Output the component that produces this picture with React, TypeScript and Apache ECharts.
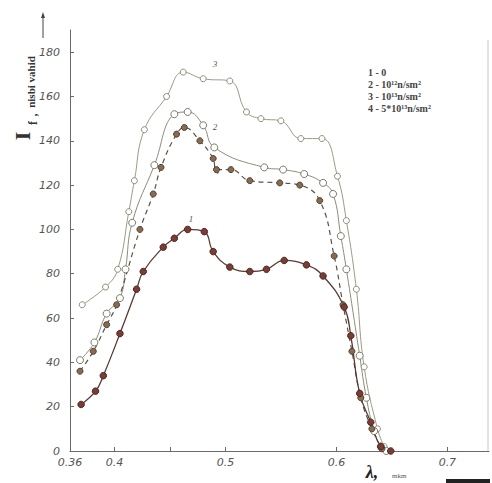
import React, { useEffect, useRef } from "react";
import * as echarts from "echarts";

// λ (mkm), I_f (nisbi vahid)
const curve1: number[][] = [
  [0.370, 21], [0.383, 27], [0.390, 34], [0.405, 53], [0.420, 73], [0.426, 81],
  [0.444, 92], [0.454, 96], [0.466, 100], [0.481, 99], [0.489, 90], [0.504, 83],
  [0.522, 81], [0.537, 82], [0.553, 86], [0.573, 84], [0.588, 79], [0.607, 65],
  [0.613, 52], [0.621, 26], [0.631, 13], [0.640, 2], [0.649, 0],
];
const curve2: number[][] = [
  [0.369, 41], [0.382, 49], [0.393, 62], [0.405, 69], [0.410, 82], [0.416, 103],
  [0.436, 129], [0.454, 152], [0.466, 153], [0.480, 147], [0.490, 137], [0.535, 128],
  [0.552, 127], [0.571, 125], [0.588, 121], [0.597, 116], [0.604, 97], [0.609, 82],
  [0.621, 43], [0.627, 24], [0.634, 9], [0.640, 2], [0.645, 0],
];
const curve3: number[][] = [
  [0.371, 66], [0.392, 74], [0.403, 82], [0.413, 108], [0.418, 122], [0.427, 145],
  [0.447, 160], [0.462, 171], [0.480, 168], [0.504, 167], [0.519, 153], [0.532, 150],
  [0.550, 149], [0.568, 141], [0.587, 141], [0.601, 124], [0.609, 104], [0.618, 73],
  [0.625, 38], [0.637, 10], [0.643, 2],
];
const curve4: number[][] = [
  [0.369, 36], [0.381, 45], [0.393, 57], [0.402, 66], [0.423, 100], [0.435, 116],
  [0.442, 128], [0.456, 143], [0.463, 146], [0.477, 140], [0.489, 132], [0.492, 127],
  [0.505, 127], [0.522, 122], [0.549, 121], [0.567, 120], [0.585, 113], [0.598, 88],
  [0.606, 66], [0.614, 45], [0.622, 24], [0.632, 10], [0.641, 1],
];

const xLabelValues = [0.36, 0.4, 0.5, 0.6, 0.7];
const xTickValues = [0.4, 0.45, 0.5, 0.6, 0.7];
const yTickValues = [0, 20, 40, 60, 80, 100, 120, 140, 160, 180];
const legendLines = ["1 - 0", "2 - 10¹²n/sm²", "3 - 10¹³n/sm²", "4 - 5*10¹³n/sm²"];
const curveNames = ["1", "2", "3", "4"];

export default function App() {
  const ref = useRef<HTMLDivElement>(null);
  useEffect(() => {
    if (!ref.current) return;
    const chart = echarts.init(ref.current, undefined, { renderer: "svg" });
    const serif = "Liberation Serif";
    const labelFont = { fontFamily: "DejaVu Sans", fontStyle: "italic" as const, fontSize: 11, color: "#555" };
    const rot = Math.PI / 2;
    chart.setOption({
      animation: false,
      backgroundColor: "#ffffff",
      grid: { left: 70, right: 3, top: 30, bottom: 32, containLabel: false },
      xAxis: {
        type: "value",
        min: 0.36,
        max: 0.7375,
        axisLine: { lineStyle: { color: "#6a6a6a", width: 1 } },
        axisTick: { inside: true, length: 4, customValues: xTickValues, lineStyle: { color: "#6a6a6a" } },
        axisLabel: {
          ...labelFont,
          margin: 6,
          customValues: xLabelValues,
          formatter: (v: number) => (Math.abs(v - 0.36) < 1e-6 ? "0.36" : v.toFixed(1)),
        },
        splitLine: { show: false },
      },
      yAxis: {
        type: "value",
        min: 0,
        max: 190,
        axisLine: { show: true, lineStyle: { color: "#6a6a6a", width: 1 } },
        axisTick: { show: true, inside: true, length: 4, customValues: yTickValues, lineStyle: { color: "#6a6a6a" } },
        axisLabel: { ...labelFont, margin: 10, customValues: yTickValues },
        splitLine: { show: false },
      },
      series: [
        {
          type: "line", data: curve3, smooth: 0.45,
          lineStyle: { color: "#9b9b86", width: 1 },
          symbol: "circle", symbolSize: 6, showSymbol: true,
          itemStyle: { color: "#ffffff", borderColor: "#8d8d78", borderWidth: 1 },
        },
        {
          type: "scatter", data: curve3, symbol: "circle", symbolSize: 2,
          itemStyle: { color: "#6d6d5c" },
        },
        {
          type: "line", data: curve2, smooth: 0.45,
          lineStyle: { color: "#8c8c7c", width: 1 },
          symbol: "circle", symbolSize: 7, showSymbol: true,
          itemStyle: { color: "#ffffff", borderColor: "#7a7a6c", borderWidth: 1 },
        },
        {
          type: "line", data: curve4, smooth: 0.45,
          lineStyle: { color: "#5a5048", width: 1.2, type: [5, 4] },
          symbol: "circle", symbolSize: 6, showSymbol: true,
          itemStyle: { color: "#8a6b4c", borderColor: "#4d4038", borderWidth: 1 },
        },
        {
          type: "line", data: curve1, smooth: 0.45,
          lineStyle: { color: "#5a3a32", width: 1.3 },
          symbol: "circle", symbolSize: 6.5, showSymbol: true,
          itemStyle: { color: "#7b3c36", borderColor: "#4a2622", borderWidth: 1 },
        },
      ],
      graphic: [
        // y axis name
        { type: "text", x: 22, y: 136, rotation: rot, style: { text: "I", font: `bold 22px ${serif}`, fill: "#333", align: "center", verticalAlign: "middle" } },
        { type: "text", x: 33, y: 123, rotation: rot, style: { text: "f", font: `bold 12px ${serif}`, fill: "#333", align: "center", verticalAlign: "middle" } },
        { type: "text", x: 33, y: 115, rotation: rot, style: { text: ",", font: `bold 12px ${serif}`, fill: "#333", align: "center", verticalAlign: "middle" } },
        { type: "text", x: 31, y: 82, rotation: rot, style: { text: "nisbi vahid", font: `bold 11px ${serif}`, fill: "#333", align: "center", verticalAlign: "middle" } },
        { type: "line", shape: { x1: 43, y1: 38, x2: 43, y2: 15 }, style: { stroke: "#444", lineWidth: 1 } },
        { type: "polygon", shape: { points: [[43, 12], [41, 18], [45, 18]] }, style: { fill: "#444" } },
        // x axis name
        { type: "text", x: 372, y: 472, style: { text: "λ,", font: `italic bold 18px ${serif}`, fill: "#222", align: "center", verticalAlign: "middle" } },
        { type: "text", x: 392, y: 476, style: { text: "mkm", font: `7px ${serif}`, fill: "#555", align: "left", verticalAlign: "middle" } },
        // curve numbers
        { type: "text", x: 215, y: 64, style: { text: curveNames[2], font: `italic 9px ${serif}`, fill: "#555", align: "center", verticalAlign: "middle" } },
        { type: "text", x: 215, y: 127, style: { text: curveNames[1], font: `italic 9px ${serif}`, fill: "#555", align: "center", verticalAlign: "middle" } },
        { type: "text", x: 217, y: 171, style: { text: curveNames[3], font: `italic 9px ${serif}`, fill: "#555", align: "center", verticalAlign: "middle" } },
        { type: "text", x: 191, y: 219, style: { text: curveNames[0], font: `italic 9px ${serif}`, fill: "#555", align: "center", verticalAlign: "middle" } },
        // legend text
        ...legendLines.map((t, i) => ({
          type: "text", x: 368, y: 72 + i * 12.2,
          style: { text: t, font: `bold 10px ${serif}`, fill: "#444", align: "left", verticalAlign: "middle" },
        })),
        // scan edges
        { type: "line", shape: { x1: 488, y1: 40, x2: 488, y2: 451 }, style: { stroke: "#c8c8c8", lineWidth: 1 } },
        { type: "rect", shape: { x: 446, y: 479, width: 44, height: 4 }, style: { fill: "#222" } },
      ],
    });
    return () => chart.dispose();
  }, []);
  return <div ref={ref} style={{ position: "fixed", left: 0, top: 0, width: 492, height: 483 }} />;
}
